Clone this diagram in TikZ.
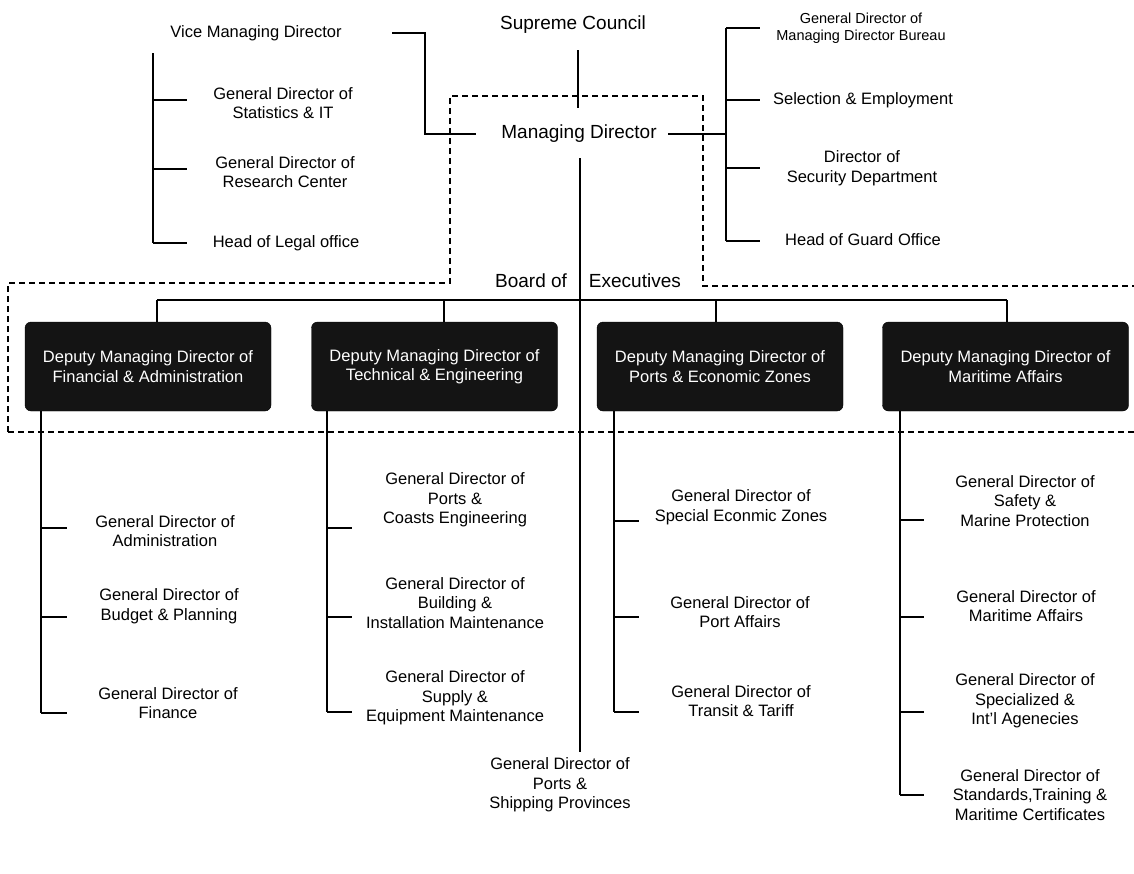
\documentclass[tikz,border=0pt]{standalone}
\usepackage{fontspec}
\setmainfont{Liberation Sans}
\usetikzlibrary{calc}
\begin{document}
\begin{tikzpicture}[x=1pt,y=-1pt,
  every node/.style={font=\fontsize{16.5}{19.5}\selectfont, align=center, inner sep=0pt},
  ln/.style={line width=1.8pt},
  tln/.style={line width=1.4pt},
  dsh/.style={line width=1.1pt, dash pattern=on 6pt off 4pt},
  big/.style={font=\fontsize{19}{23}\selectfont},
  small/.style={font=\fontsize{14.5}{17.5}\selectfont},
  dep/.style={draw=black, fill=black!92, rounded corners=6pt, minimum width=246pt, minimum height=89pt, text=white}]
\useasboundingbox (0,0) rectangle (1134,873);
\fill[white] (0,0) rectangle (1134,873);

% ---------- top level ----------
\node[big] (sc) at (573,25) {Supreme Council};
\node[big] (md) at (579,134) {Managing Director};
\node[big] (board) at (588,281) {Board of\hspace{22pt}Executives};

\node (vmd) at (256,33) {Vice Managing Director};
\node (stat) at (283,103) {General Director of\\Statistics \& IT};
\node (res) at (285,172) {General Director of\\Research Center};
\node (legal) at (286,243) {Head of Legal office};

\node[small] (bur) at (861,28) {General Director of\\Managing Director Bureau};
\node (sel) at (863,100) {Selection \& Employment};
\node (sec) at (862,168) {Director of\\Security Department};
\node (guard) at (863,240) {Head of Guard Office};

% connectors top
\coordinate (vA) at (392,33);
\coordinate (vB) at (425,33);
\coordinate (vC) at (476,134);
\draw[ln] (vA) -- (vB) |- (vC);
\coordinate (scA) at (578,50);
\coordinate (scB) at (578,108);
\draw[tln] (scA) -- (scB);

\coordinate (mdR) at (668,134);
\coordinate (rbT) at (726,28);
\coordinate (rbB) at (726,241);
\draw[ln] (mdR) -- (rbT |- mdR);
\draw[ln] (rbT) -- (rbB);
\foreach \y in {28,100,168,241}{\draw[ln] (726,\y) -- (760,\y);}

\coordinate (lbT) at (153,53);
\coordinate (lbB) at (153,243);
\draw[ln] (lbT) -- (lbB);
\foreach \y in {100,169,243}{\draw[ln] (153,\y) -- (187,\y);}

% dashed board frame
\draw[dsh] (8,432) -- (8,283) -- (450,283) -- (450,96) -- (703,96) -- (703,286) -- (1134,286);
\draw[dsh] (8,432) -- (1134,432);

% ---------- deputies ----------
\node[dep] (d1) at (148,366.5) {Deputy Managing Director of\\Financial \& Administration};
\node[dep] (d2) at (434.5,366.5) {Deputy Managing Director of\\Technical \& Engineering};
\node[dep] (d3) at (720,366.5) {Deputy Managing Director of\\Ports \& Economic Zones};
\node[dep] (d4) at (1005.5,366.5) {Deputy Managing Director of\\Maritime Affairs};

\draw[tln] (157,300) -- (1007,300);
\foreach \x/\n in {157/d1,444/d2,716/d3,1007/d4}{\draw[tln] (\x,300) -- (\n.north -| \x,0);}

% main vertical from MD
\coordinate (mdD) at (580,158);
\coordinate (mdE) at (580,752);
\draw[tln] (mdD) -- (mdE);

% ---------- sub departments ----------
\node (c1a) at (165,531) {General Director of\\Administration};
\node (c1b) at (169,606) {General Director of\\Budget \& Planning};
\node (c1c) at (168,703) {General Director of\\Finance};

\node (c2a) at (455,500) {General Director of\\Ports \&\\Coasts Engineering};
\node (c2b) at (455,603) {General Director of\\Building \&\\Installation Maintenance};
\node (c2c) at (455,698) {General Director of\\Supply \&\\Equipment Maintenance};

\node (c3a) at (741,507) {General Director of\\Special Econmic Zones};
\node (c3b) at (740,612) {General Director of\\Port Affairs};
\node (c3c) at (741,701) {General Director of\\Transit \& Tariff};

\node (c4a) at (1025,501) {General Director of\\Safety \&\\Marine Protection};
\node (c4b) at (1026,606) {General Director of\\Maritime Affairs};
\node (c4c) at (1025,701) {General Director of\\Specialized \&\\Int'l Agenecies};
\node (c4d) at (1030,795) {General Director of\\Standards,Training \&\\Maritime Certificates};

\node (gdp) at (560,785) {General Director of\\Ports \&\\Shipping Provinces};

% column bars
\draw[ln] (d1.south -| 41,0) -- (41,713);
\foreach \y in {528,617,713}{\draw[ln] (41,\y) -- (67,\y);}
\draw[ln] (d2.south -| 327,0) -- (327,712);
\foreach \y in {528,617,712}{\draw[ln] (327,\y) -- (352,\y);}
\draw[ln] (d3.south -| 614,0) -- (614,712);
\foreach \y in {521,617,712}{\draw[ln] (614,\y) -- (639,\y);}
\draw[ln] (d4.south -| 900,0) -- (900,795);
\foreach \y in {520,617,712,795}{\draw[ln] (900,\y) -- (924,\y);}
\end{tikzpicture}
\end{document}
